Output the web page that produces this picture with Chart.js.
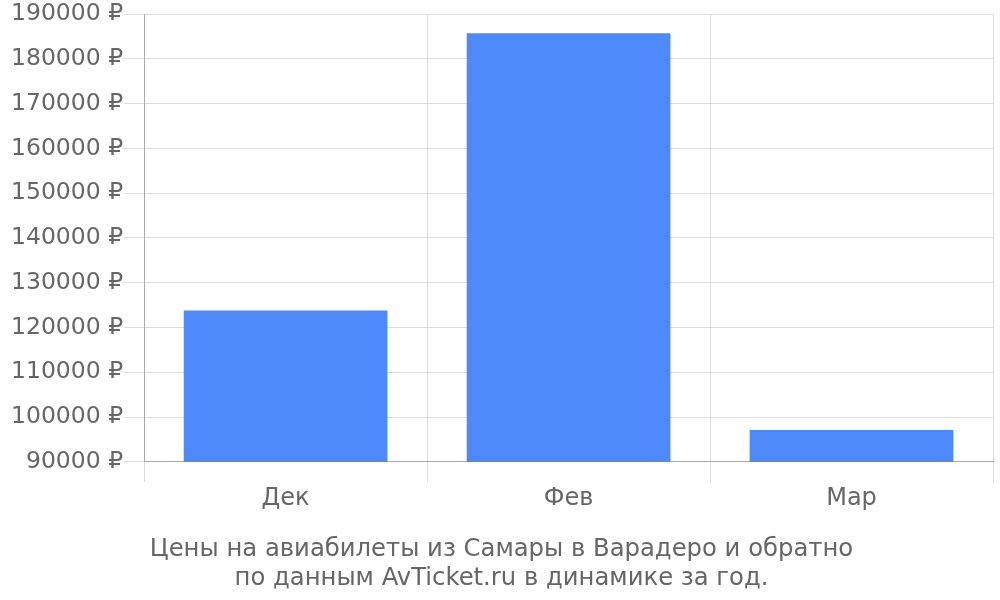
<!DOCTYPE html>
<html>
<head>
<meta charset="utf-8">
<script src="https://cdn.jsdelivr.net/npm/chart.js@4"></script>
<style>
html, body { margin: 0; padding: 0; background: #fff; overflow: hidden; }
#wrap { position: relative; top: -1px; width: 1000px; height: 601px; }
</style>
</head>
<body>
<div id="wrap"><canvas id="chart"></canvas></div>
<script>
const months = ['Дек', 'Фев', 'Мар'];
const prices = [123800, 185700, 97100];
const titleLines = ['Цены на авиабилеты из Самары в Варадеро и обратно', 'по данным AvTicket.ru в динамике за год.'];

Chart.defaults.font.family = 'DejaVu Sans';
Chart.defaults.color = '#666';

const ctx = document.getElementById('chart');
const chart = new Chart(ctx, {
    type: 'bar',
    data: {
        labels: months,
        datasets: [{
            data: prices,
            backgroundColor: '#4d89f9',
            borderWidth: 0
        }]
    },
    options: {
        responsive: true,
        maintainAspectRatio: false,
        animation: false,
        layout: { padding: { top: 0, right: 7, left: 10 } },
        plugins: {
            legend: { display: false },
            tooltip: { enabled: false },
            title: {
                display: true,
                position: 'bottom',
                text: titleLines,
                color: '#666',
                font: { size: 24.3, weight: 'normal' },
                lineHeight: 1.2,
                padding: { top: 20, bottom: 7 }
            }
        },
        scales: {
            x: {
                grid: { color: '#ddd', tickLength: 20 },
                border: { color: '#aaa' },
                ticks: { font: { size: 24 }, padding: 2 }
            },
            y: {
                min: 90000,
                max: 190000,
                grid: { color: '#ddd', tickLength: 20 },
                border: { color: '#aaa' },
                ticks: {
                    stepSize: 10000,
                    font: { size: 23.5 },
                    padding: 1,
                    callback: v => v + ' ₽'
                }
            }
        }
    }
});
</script>
</body>
</html>
